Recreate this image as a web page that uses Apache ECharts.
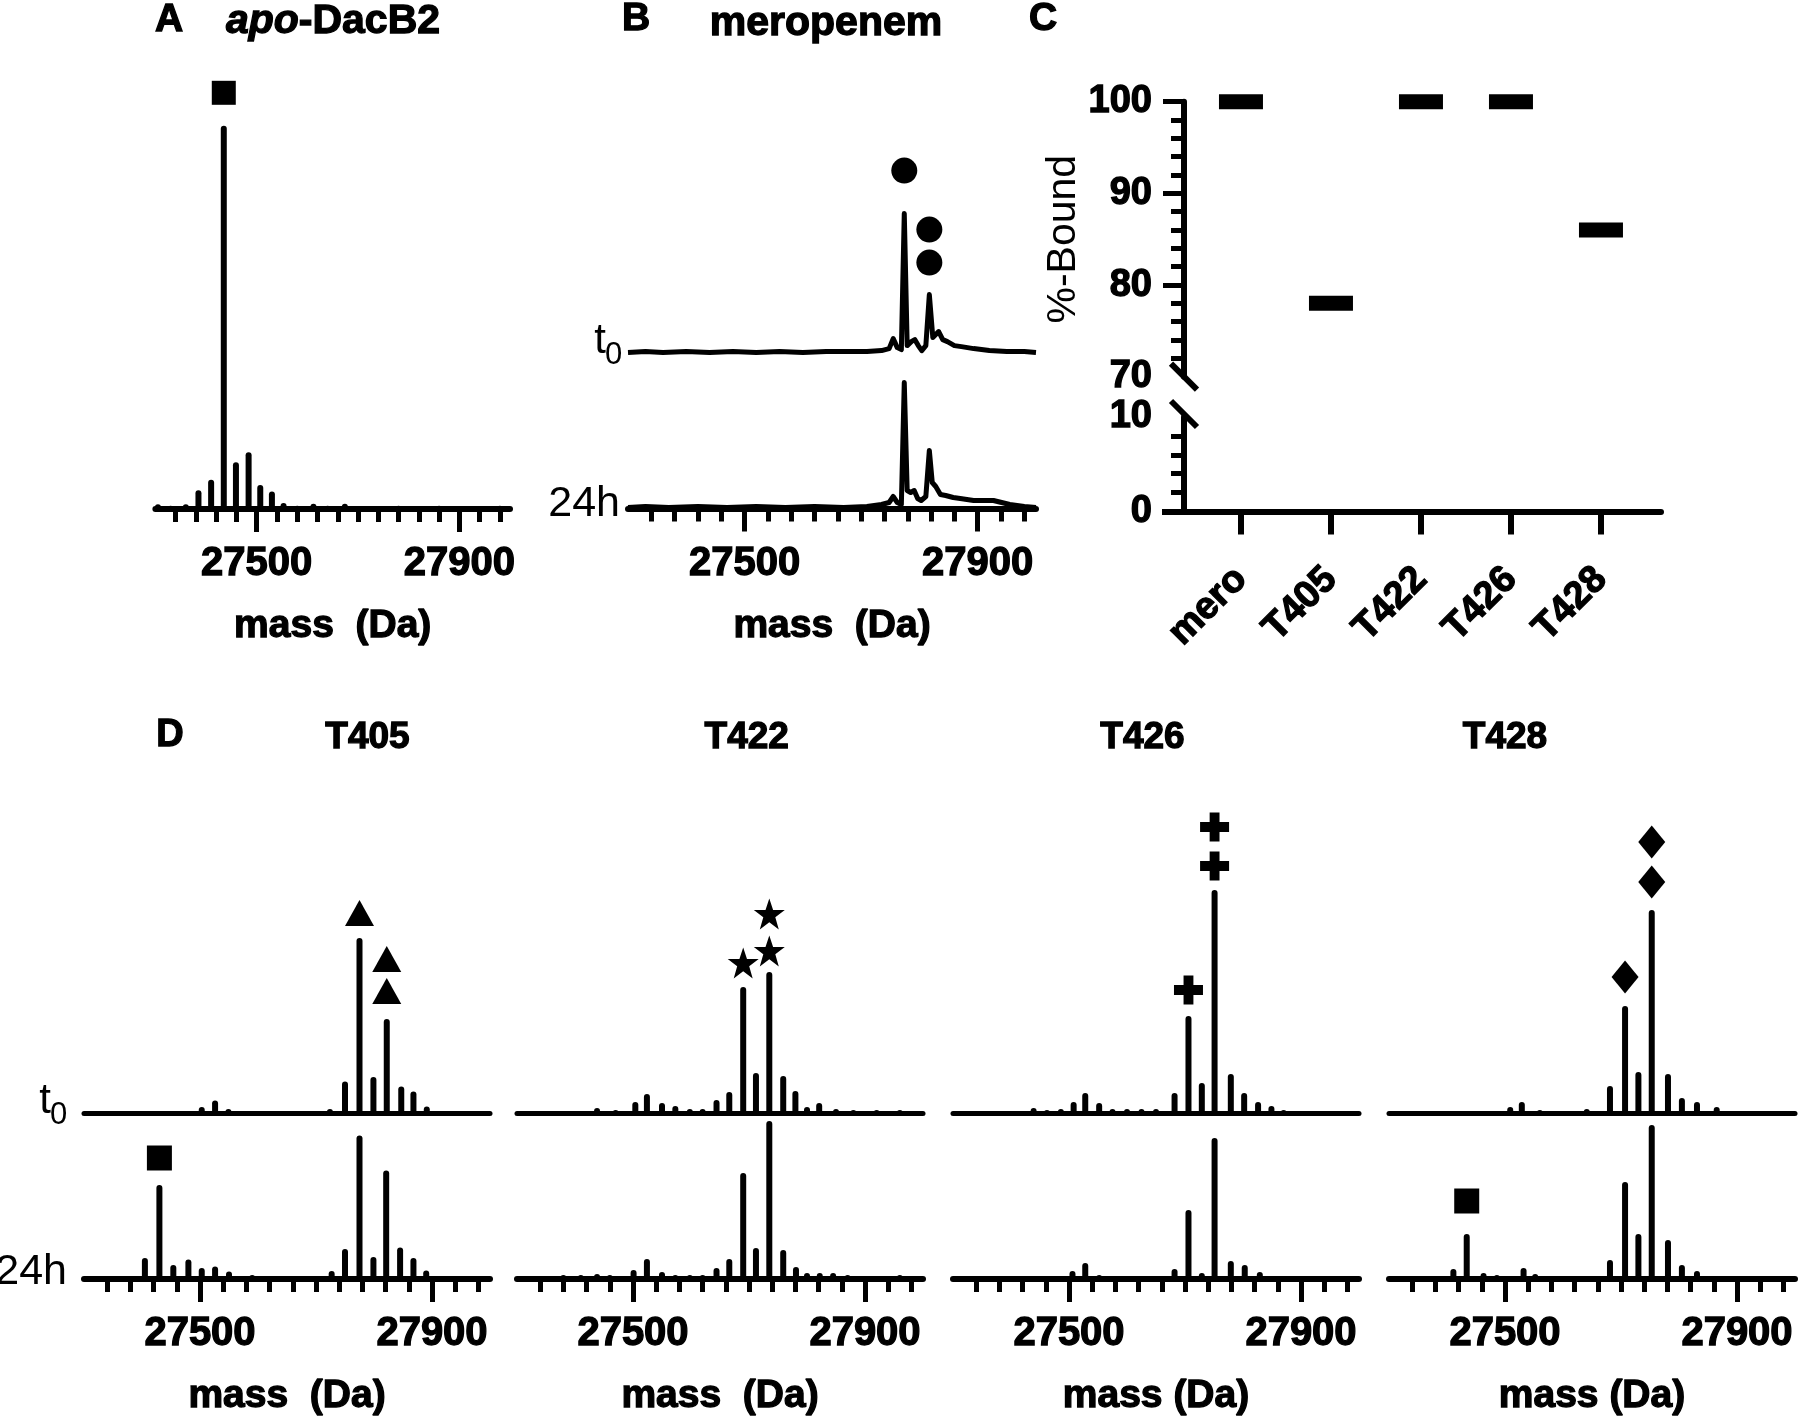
<!DOCTYPE html>
<html><head><meta charset="utf-8">
<script src="https://cdn.jsdelivr.net/npm/echarts@6/dist/echarts.min.js"></script>
<style>html,body{margin:0;padding:0;background:#fff}#c{width:1800px;height:1422px}</style>
</head><body><div id="c"></div>
<script>
// ---------------- data ----------------
const massMajorTicks = [27500, 27900];
const massMinorTicks = [27340,27380,27420,27460,27540,27580,27620,27660,27700,27740,27780,27820,27860,27940,27980];

// A: apo-DacB2 peaks [mass, relative intensity]
const apoPeaks = [[27305,1.2],[27330,0.8],[27360,1.2],[27385,4.7],[27410,7.3],[27435,95.8],[27459,11.7],[27484,14.2],[27507,6],[27530,4.4],[27553,1.5],[27580,0.8],[27612,1.3],[27640,0.8],[27674,1.3],[27705,0.6],[27740,0.6],[27780,0.8],[27820,0.6],[27860,0.8],[27900,0.6],[27940,0.6],[27980,0.8]];
const apoMarks = [[27435,95.8,1]];

// B: meropenem profile traces
const meroT0 = [[27300,0.5],[27330,1],[27360,0.5],[27400,1],[27440,0.5],[27480,1],[27520,0.5],[27560,1],[27600,0.5],[27640,1],[27680,1],[27710,1],[27735,1.5],[27748,2.5],[27755,7.5],[27762,3],[27769,2],[27774,70],[27779,4],[27786,6],[27792,7],[27798,4],[27804,1.5],[27811,4],[27817,29.5],[27823,8],[27833,11],[27840,7],[27848,6],[27860,4],[27872,3.5],[27893,2.5],[27920,1.5],[27950,1],[27980,1],[28000,0.5]];
const meroH24 = [[27300,0.5],[27330,1],[27370,0.5],[27420,1],[27470,0.5],[27520,1],[27570,0.5],[27620,1],[27670,0.5],[27710,1],[27735,2],[27748,3],[27755,6],[27762,3],[27769,2],[27774,63],[27779,9],[27785,8],[27791,9],[27797,5],[27803,4],[27811,6],[27817,29],[27822,13],[27828,11],[27836,7],[27845,6.5],[27858,5.5],[27870,5],[27893,4],[27927,4],[27955,2],[27980,1],[28000,0.5]];
const meroMarks = [[27774,70,1],[27817,29.5,2]];

// C: %-Bound
const boundCats = ['mero','T405','T422','T426','T428'];
const boundVals = [100, 78, 100, 100, 86];

// D: variant spectra peaks [mass, relative intensity]
const t405T0 = [[27330,1],[27380,1],[27420,1],[27460,1],[27503,3],[27526,6.3],[27549,2],[27580,1],[27620,1],[27660,1],[27700,1],[27724,2],[27750,15.8],[27775,87.5],[27799,18],[27822,47],[27847,13.3],[27868,10.8],[27891,3.3],[27930,1],[27970,1]];
const t405H24 = [[27333,1],[27370,1],[27405,10.5],[27430,47],[27454,7],[27480,9.7],[27503,5.5],[27526,6.3],[27550,3.8],[27590,2],[27630,1.5],[27670,1.5],[27700,1.5],[27727,4],[27750,15],[27775,71.7],[27799,11],[27821,54.3],[27845,15.8],[27868,10.5],[27890,4.3],[27930,1.5],[27970,1.5]];
const t422T0 = [[27340,1],[27380,1],[27438,2.5],[27470,1.5],[27504,5.5],[27524,9.5],[27550,5],[27573,3.5],[27598,2],[27620,2],[27644,6.5],[27666,10.5],[27690,63],[27712,20],[27735,70.5],[27759,18.5],[27780,11],[27800,3],[27821,5],[27850,2],[27880,1.5],[27920,1.5],[27960,1.5]];
const t422H24 = [[27340,1.5],[27380,2],[27410,2],[27438,2.5],[27460,2],[27501,4.5],[27524,10],[27550,3.5],[27573,2],[27598,2],[27620,2],[27644,5.5],[27666,10],[27690,53],[27712,15.5],[27735,79],[27759,14.5],[27781,6],[27800,3],[27822,3],[27845,3],[27870,2],[27920,1.5],[27960,2]];
const t426T0 = [[27340,1],[27400,1],[27439,2.5],[27462,1.5],[27486,2],[27508,5.5],[27528,10],[27552,5],[27575,2],[27600,2],[27625,2],[27650,2],[27682,10],[27706,48.5],[27729,15],[27751,111.5],[27779,19.5],[27802,10],[27826,5.5],[27849,3.5],[27870,1.5],[27900,1],[27950,1]];
const t426H24 = [[27380,1],[27413,1],[27439,1.5],[27462,1],[27506,4],[27528,8],[27552,2],[27575,1],[27650,1],[27682,5],[27706,34.5],[27729,3],[27751,70.5],[27779,9],[27803,7],[27829,3.5],[27850,1.5],[27880,1]];
const t428T0 = [[27340,1],[27400,1],[27440,1],[27470,1],[27509,3],[27529,5.5],[27560,1.5],[27600,1],[27641,2],[27681,13.5],[27707,53.5],[27730,20.5],[27753,101.5],[27781,19.5],[27805,7.5],[27831,5.5],[27865,3],[27900,1],[27950,1]];
const t428H24 = [[27385,1.5],[27411,5],[27434,22.5],[27463,3],[27486,2],[27532,5.5],[27552,2.5],[27600,1],[27640,1],[27681,9.5],[27707,48.5],[27730,22.5],[27753,77],[27781,19.5],[27805,7],[27831,4],[27860,1.5],[27900,1],[27960,1]];

const t405Marks = [[27775,87.5,1],[27822,47,2]];
const t405ApoMarks = [[27430,47,1]];
const t422Marks = [[27690,63,1],[27735,70.5,2]];
const t426Marks = [[27706,48.5,1],[27751,111.5,2]];
const t428Marks = [[27707,53.5,1],[27753,101.5,2]];
const t428ApoMarks = [[27434,22.5,1]];

// ---------------- styling / layout ----------------
const FONT = '"Liberation Sans", Arial, Helvetica, sans-serif';
const K = '#000';
const FAT = {textBorderColor:K, textBorderWidth:1.3};
const LAY = {
  A: {left:155.4, width:354.6, base:509, h:400, ymax:100},
  B: {left:628, width:408, base0:353.6, base1:508.5, h:200, ymax:100},
  C: {left:1184, width:477, upTop:101.7, upBot:376.7, loTop:417, loBot:511.5, xmin:-0.633, xmax:4.667},
  D: {lefts:[84,517,953,1389], width:406, base0:1113, base1:1279, h:250, ymax:125}
};
const STAR = 'path://M50,2 L62,37 L99,37 L69,59 L80,96 L50,74 L20,96 L31,59 L1,37 L38,37 Z';
const PLUS = 'path://M33,0 H67 V33 H100 V67 H67 V100 H33 V67 H0 V33 H33 Z';

const grids = [], xAxes = [], yAxes = [], series = [], graphics = [];

function addGrid(left, width, top, height, ymin, ymax, yExtra) {
  grids.push({left, width, top, height});
  const g = grids.length - 1;
  yAxes.push(Object.assign({type:'value', gridIndex:g, min:ymin, max:ymax, show:false, splitLine:{show:false}}, yExtra || {}));
  return g;
}
function massAxes(g, name) {
  xAxes.push({type:'value', gridIndex:g, position:'bottom', min:27300, max:28000,
    axisLine:{show:true, onZero:false, lineStyle:{color:K, width:6}},
    axisTick:{show:true, customValues:massMajorTicks, length:23, lineStyle:{color:K, width:5}},
    axisLabel:Object.assign({show:true, customValues:massMajorTicks, margin:35, color:K, fontSize:40, fontWeight:'bold', fontFamily:FONT, formatter:v => String(v)}, FAT),
    splitLine:{show:false},
    name:name, nameLocation:'middle', nameGap:98,
    nameTextStyle:Object.assign({color:K, fontSize:39, fontWeight:'bold', fontFamily:FONT}, FAT)});
  const main = xAxes.length - 1;
  xAxes.push({type:'value', gridIndex:g, position:'bottom', min:27300, max:28000,
    axisLine:{show:false, onZero:false},
    axisTick:{show:true, customValues:massMinorTicks, length:13, lineStyle:{color:K, width:5}},
    axisLabel:{show:false}, splitLine:{show:false}});
  return main;
}
function plainAxis(g, showLine) {
  xAxes.push({type:'value', gridIndex:g, position:'bottom', min:27300, max:28000,
    axisLine:{show:showLine, onZero:false, lineStyle:{color:K, width:5}},
    axisTick:{show:false}, axisLabel:{show:false}, splitLine:{show:false}});
  return xAxes.length - 1;
}
function bars(xi, yi, data) {
  series.push({type:'bar', xAxisIndex:xi, yAxisIndex:yi, data:data, barWidth:6, silent:true,
    itemStyle:{color:K, borderRadius:[3,3,0,0]}});
}
function trace(xi, yi, data) {
  series.push({type:'line', xAxisIndex:xi, yAxisIndex:yi, data:data, showSymbol:false, silent:true,
    lineStyle:{color:K, width:5, join:'round'}});
}
function marks(xi, yi, list, symbol, size, single, dbl) {
  const data = [];
  list.forEach(([m, v, n]) => {
    if (n === 1) data.push({value:[m, v], symbolOffset:[0, -single]});
    else dbl.forEach(o => data.push({value:[m, v], symbolOffset:[0, -o]}));
  });
  series.push({type:'scatter', xAxisIndex:xi, yAxisIndex:yi, data:data, symbol:symbol, symbolSize:size,
    itemStyle:{color:K, opacity:1}, silent:true, z:5});
}
function txt(x, y, text, size, weight, align, valign, extra) {
  const st = Object.assign({
    text:text, fill:K, fontSize:size, fontWeight:weight, fontFamily:FONT,
    align:align, textAlign:align, verticalAlign:valign, textVerticalAlign:valign}, extra || {});
  if (weight === 'bold') { st.stroke = K; st.lineWidth = 1.3; }
  graphics.push({type:'text', x:x, y:y, silent:true, style:st});
}

// ---- Panel A ----
{
  const a = LAY.A;
  const g = addGrid(a.left, a.width, a.base - a.h, a.h, 0, a.ymax);
  const xi = massAxes(g, 'mass  (Da)');
  bars(xi, g, apoPeaks);
  marks(xi, g, apoMarks, 'rect', 24, 33, []);
}
// ---- Panel B ----
{
  const b = LAY.B;
  const g0 = addGrid(b.left, b.width, b.base0 - b.h, b.h, 0, b.ymax);
  const x0 = plainAxis(g0, false);
  trace(x0, g0, meroT0);
  marks(x0, g0, meroMarks, 'circle', 26, 43, [32, 65]);
  const g1 = addGrid(b.left, b.width, b.base1 - b.h, b.h, 0, b.ymax);
  const x1 = massAxes(g1, 'mass  (Da)');
  trace(x1, g1, meroH24);
  txt(606, b.base0 + 9, 't', 42, 'normal', 'right', 'bottom');
  txt(605, b.base0 + 2, '0', 31, 'normal', 'left', 'middle');
  txt(620, b.base1 - 4, '24h', 43, 'normal', 'right', 'middle');
}
// ---- Panel C ----
{
  const c = LAY.C;
  const yUp = {show:true, position:'left', interval:10,
    axisLine:{show:true, onZero:false, lineStyle:{color:K, width:6}},
    axisTick:{show:true, customValues:[80, 90, 100], length:21, lineStyle:{color:K, width:5}},
    minorTick:{show:true, splitNumber:5, length:13, lineStyle:{color:K, width:5}},
    axisLabel:Object.assign({show:true, margin:32, color:K, fontSize:38, fontWeight:'bold', fontFamily:FONT}, FAT),
    name:'%-Bound', nameLocation:'middle', nameRotate:90, nameGap:92,
    nameTextStyle:{color:K, fontSize:41, fontWeight:'normal', fontFamily:FONT}};
  const gU = addGrid(c.left, c.width, c.upTop, c.upBot - c.upTop, 70, 100, yUp);
  xAxes.push({type:'value', gridIndex:gU, min:c.xmin, max:c.xmax, show:false});
  const xU = xAxes.length - 1;
  series.push({type:'scatter', xAxisIndex:xU, yAxisIndex:gU, data:boundVals.map((v, i) => [i, v]),
    symbol:'rect', symbolSize:[44, 15], itemStyle:{color:K, opacity:1}, silent:true});
  const yLo = {show:true, position:'left', interval:10,
    axisLine:{show:true, onZero:false, lineStyle:{color:K, width:6}},
    axisTick:{show:true, customValues:[0], length:22, lineStyle:{color:K, width:6}},
    minorTick:{show:true, splitNumber:5, length:13, lineStyle:{color:K, width:5}},
    axisLabel:Object.assign({show:true, margin:32, color:K, fontSize:38, fontWeight:'bold', fontFamily:FONT}, FAT)};
  const gL = addGrid(c.left, c.width, c.loTop, c.loBot - c.loTop, 0, 10, yLo);
  xAxes.push({type:'value', gridIndex:gL, position:'bottom', min:c.xmin, max:c.xmax,
    axisLine:{show:true, onZero:false, lineStyle:{color:K, width:6}},
    axisTick:{show:true, customValues:[0,1,2,3,4], length:23, lineStyle:{color:K, width:6}},
    axisLabel:Object.assign({show:true, customValues:[0,1,2,3,4], rotate:45, margin:62, color:K, fontSize:38, fontWeight:'bold', fontFamily:FONT,
      formatter:v => boundCats[Math.round(v)] || ''}, FAT),
    splitLine:{show:false}});
  // axis break marks
  [c.upBot, c.loTop - 3].forEach(y => graphics.push({type:'line', silent:true,
    shape:{x1:c.left - 13, y1:y - 13, x2:c.left + 13, y2:y + 13}, style:{stroke:K, lineWidth:6}}));
}
// ---- Panel D ----
{
  const d = LAY.D;
  const panels = [
    {t0:t405T0, h24:t405H24, m:t405Marks, apo:t405ApoMarks, sym:'triangle', size:[29,26], s:25, dd:[28,60], name:'mass  (Da)', title:'T405', tx:367.5, apoOff:27},
    {t0:t422T0, h24:t422H24, m:t422Marks, apo:null, sym:STAR, size:31, s:24, dd:[21,58], name:'mass  (Da)', title:'T422', tx:746.7},
    {t0:t426T0, h24:t426H24, m:t426Marks, apo:null, sym:PLUS, size:29, s:26, dd:[24,63], name:'mass (Da)', title:'T426', tx:1142.5},
    {t0:t428T0, h24:t428H24, m:t428Marks, apo:t428ApoMarks, sym:'diamond', size:[27,33], s:29, dd:[28,68], name:'mass (Da)', title:'T428', tx:1505, apoOff:33}
  ];
  panels.forEach((p, i) => {
    const L = d.lefts[i];
    const g0 = addGrid(L, d.width, d.base0 - d.h, d.h, 0, d.ymax);
    const x0 = plainAxis(g0, true);
    bars(x0, g0, p.t0);
    marks(x0, g0, p.m, p.sym, p.size, p.s, p.dd);
    const g1 = addGrid(L, d.width, d.base1 - d.h, d.h, 0, d.ymax);
    const x1 = massAxes(g1, p.name);
    bars(x1, g1, p.h24);
    if (p.apo) marks(x1, g1, p.apo, 'rect', 25, p.apoOff, []);
    txt(p.tx, 738, p.title, 37, 'bold', 'center', 'middle');
  });
  txt(51, d.base0 + 9, 't', 42, 'normal', 'right', 'bottom');
  txt(50, d.base0 + 2, '0', 31, 'normal', 'left', 'middle');
  txt(67, d.base1 - 7, '24h', 43, 'normal', 'right', 'middle');
  txt(170, 736, 'D', 38, 'bold', 'center', 'middle');
}
// ---- panel titles ----
txt(169, 20, 'A', 39, 'bold', 'center', 'middle');
txt(333, 22, '{i|apo}-DacB2', 41, 'bold', 'center', 'middle',
  {rich:{i:{fontStyle:'italic', fontWeight:'bold', fontSize:41, fontFamily:FONT, fill:K, stroke:K, lineWidth:1.3}}});
txt(636, 19, 'B', 39, 'bold', 'center', 'middle');
txt(826, 24, 'meropenem', 41, 'bold', 'center', 'middle');
txt(1043, 19, 'C', 39, 'bold', 'center', 'middle');

const chart = echarts.init(document.getElementById('c'), null, {renderer:'canvas'});
chart.setOption({
  animation:false, backgroundColor:'#fff',
  grid:grids, xAxis:xAxes, yAxis:yAxes, series:series, graphic:graphics
});
</script></body></html>
